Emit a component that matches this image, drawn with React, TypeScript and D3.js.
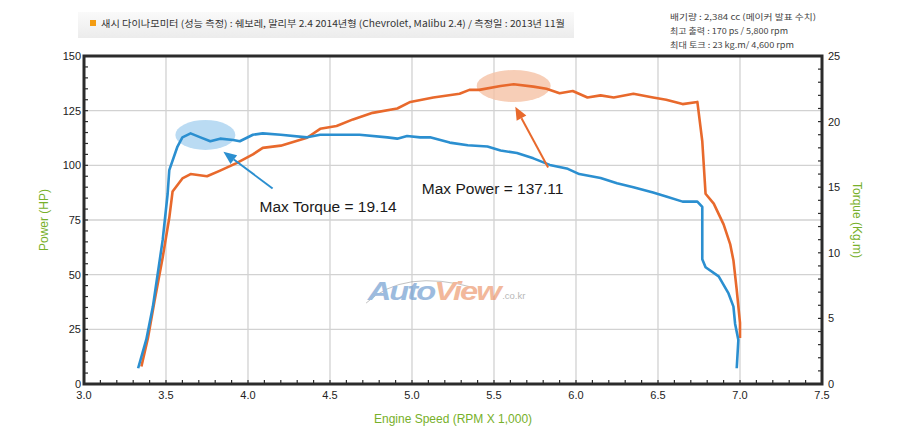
import * as d3 from "d3";
import * as React from "react";

// engine speed (x1000 rpm) / power (hp) for the orange curve
const powerRpm = [3.35, 3.39, 3.43, 3.48, 3.52, 3.54, 3.60, 3.65, 3.75, 3.83, 3.93, 4.03, 4.09, 4.20, 4.36, 4.44, 4.54, 4.64, 4.76, 4.91, 4.99, 5.13, 5.29, 5.35, 5.41, 5.54, 5.62, 5.74, 5.82, 5.90, 5.98, 6.07, 6.15, 6.23, 6.35, 6.47, 6.55, 6.65, 6.74, 6.77, 6.79, 6.84, 6.90, 6.94, 6.96, 6.98, 7.00, 7.00];
const powerHp = [8, 21, 38, 58, 76, 88, 94, 96, 95, 97.6, 101, 105, 108, 109, 112.6, 116.7, 118, 121, 124, 126, 129, 131, 132.7, 134.5, 134.5, 136.3, 137.1, 136, 135, 133, 134, 131, 132, 131, 132.7, 131, 130, 128, 129, 111, 87, 82.5, 73, 64, 56.5, 43, 28, 21];

// engine speed / torque (kg.m) for the blue curve
const torqueRpm = [3.33, 3.38, 3.42, 3.48, 3.51, 3.52, 3.57, 3.60, 3.65, 3.71, 3.77, 3.83, 3.91, 3.95, 4.03, 4.09, 4.20, 4.36, 4.44, 4.54, 4.68, 4.85, 4.91, 4.97, 5.05, 5.11, 5.23, 5.34, 5.46, 5.54, 5.64, 5.74, 5.84, 5.95, 6.02, 6.15, 6.25, 6.35, 6.47, 6.55, 6.65, 6.74, 6.77, 6.77, 6.77, 6.79, 6.87, 6.93, 6.96, 6.97, 6.99, 6.98];
const torqueKgm = [1.2, 3.4, 5.9, 11, 14.5, 16.3, 18.1, 18.8, 19.1, 18.8, 18.5, 18.7, 18.6, 18.5, 19.0, 19.1, 19.0, 18.8, 19.0, 19.0, 19.0, 18.8, 18.7, 18.9, 18.8, 18.8, 18.4, 18.2, 18.1, 17.8, 17.6, 17.2, 16.7, 16.4, 16.0, 15.7, 15.3, 15.0, 14.6, 14.3, 13.9, 13.9, 13.5, 11.2, 9.5, 8.9, 8.2, 6.9, 5.9, 4.6, 3.35, 1.2];

const xTicks = [3.0, 3.5, 4.0, 4.5, 5.0, 5.5, 6.0, 6.5, 7.0, 7.5];
const powerTicks = [0, 25, 50, 75, 100, 125, 150];
const torqueTicks = [0, 5, 10, 15, 20, 25];

const headerText = "새시 다이나모미터 (성능 측정)  :  쉐보레, 말리부 2.4 2014년형  (Chevrolet, Malibu 2.4) / 측정일 : 2013년 11월";
const specLines = [
    "배기량 :  2,384 cc   (메이커 발표 수치)",
    "최고 출력 : 170 ps / 5,800 rpm",
    "최대 토크 : 23 kg.m/ 4,600 rpm",
];
const specWidths = [146, 118, 124];

const ORANGE = "#e8692c";
const BLUE = "#2b8fd0";
const GREEN = "#77b02a";
const AXIS = "#2b2b2b";
const FONT = "'Liberation Sans', Arial, sans-serif";
const KFONT = "'Noto Sans CJK KR', 'Liberation Sans', sans-serif";

const margin = { left: 84, right: 78, top: 56, bottom: 52 };
const W = 900;
const H = 436;

function Arrow(props: { x1: number; y1: number; x2: number; y2: number; color: string }): JSX.Element {
    const { x1, y1, x2, y2, color } = props;
    const a = Math.atan2(y2 - y1, x2 - x1);
    const len = 13;
    const half = 5.5;
    const bx = x2 - len * Math.cos(a);
    const by = y2 - len * Math.sin(a);
    const px = -Math.sin(a) * half;
    const py = Math.cos(a) * half;
    return (
        <g>
            <line x1={x1} y1={y1} x2={bx} y2={by} stroke={color} strokeWidth={2} />
            <path d={`M${x2},${y2}L${bx + px},${by + py}L${bx - px},${by - py}Z`} fill={color} />
        </g>
    );
}

export default function App(): JSX.Element {
    const x = d3.scaleLinear().domain([3, 7.5]).range([margin.left, W - margin.right]);
    const yP = d3.scaleLinear().domain([0, 150]).range([H - margin.bottom, margin.top]);
    const yT = d3.scaleLinear().domain([0, 25]).range([H - margin.bottom, margin.top]);

    const [x0, x1] = x.range();
    const [y0, y1] = yP.range();

    const powerLine = d3.line<number>()
        .x((_, i) => x(powerRpm[i]))
        .y(d => yP(d));
    const torqueLine = d3.line<number>()
        .x((_, i) => x(torqueRpm[i]))
        .y(d => yT(d));

    const xMinor = d3.range(30, 76).map(v => v / 10);
    const pMinor = d3.range(0, 151, 5);
    const tMinor = d3.range(0, 26, 1);

    return (
        <svg width={W} height={H} style={{ position: "absolute", left: 0, top: 0, background: "#fff" }}>
            <defs>
                <linearGradient id="band" x1="0" x2="0" y1="0" y2="1">
                    <stop offset="0" stopColor="#fafafa" />
                    <stop offset="1" stopColor="#ececec" />
                </linearGradient>
            </defs>
            {/* header band */}
            <rect x={78} y={12} width={496} height={26} fill="url(#band)" />
            <rect x={90} y={20} width={6} height={6} fill="#f39c12" />
            <text x={101} y={27} fontFamily={KFONT} fontSize={9.4} fill="#333" textLength={464} lengthAdjust="spacingAndGlyphs">{headerText}</text>
            {specLines.map((s, i) => (
                <text key={i} x={670} y={20 + i * 14} fontFamily={KFONT} fontSize={8.2} fill="#444" textLength={specWidths[i]} lengthAdjust="spacingAndGlyphs">{s}</text>
            ))}

            {/* grid */}
            {xTicks.slice(1, -1).map(t => (
                <line key={t} x1={x(t)} x2={x(t)} y1={y1} y2={y0} stroke="#d2d2d2" strokeWidth={1.3} />
            ))}
            {powerTicks.slice(1, -1).map(t => (
                <line key={t} x1={x0} x2={x1} y1={yP(t)} y2={yP(t)} stroke="#d2d2d2" strokeWidth={1.3} />
            ))}

            {/* watermark */}
            <g opacity={0.6} fontFamily={FONT} fontStyle="italic" fontWeight="bold">
                <path d={`M${x(4.72)},${yP(37)} Q${x(4.95)},${yP(53)} ${x(5.38)},${yP(44)}`} fill="none" stroke="#9a9a9a" strokeWidth={1} />
                <text x={x(4.73)} y={yP(42) + 8} fontSize={25} letterSpacing={-1.5} textLength={132} lengthAdjust="spacingAndGlyphs">
                    <tspan fill="#5b8fc9">Auto</tspan><tspan fill="#ea8a5a">View</tspan>
                </text>
                <text x={x(5.55)} y={yP(42) + 7} fontSize={9.5} fontWeight="normal" fontStyle="normal" fill="#888">.co.kr</text>
            </g>

            {/* highlight ellipses */}
            <ellipse cx={x(3.74)} cy={yT(18.98)} rx={30} ry={15} fill="#a9d2f0" opacity={0.8} />
            <ellipse cx={x(5.62)} cy={yP(136.3)} rx={37} ry={16} fill="#f5c2a5" opacity={0.8} />

            {/* curves */}
            <path d={powerLine(powerHp) ?? ""} fill="none" stroke={ORANGE} strokeWidth={2.6} strokeLinejoin="round" />
            <path d={torqueLine(torqueKgm) ?? ""} fill="none" stroke={BLUE} strokeWidth={2.6} strokeLinejoin="round" />

            {/* annotations */}
            <Arrow x1={x(4.15)} y1={yT(14.9)} x2={x(3.85)} y2={yT(17.7)} color={BLUE} />
            <Arrow x1={x(5.83)} y1={yP(99)} x2={x(5.63)} y2={yP(126.8)} color={ORANGE} />
            <text x={x(4.07)} y={yT(13.1)} fontFamily={FONT} fontSize={15.5} fill="#1a1a1a">Max Torque = 19.14</text>
            <text x={x(5.06)} y={yP(87)} fontFamily={FONT} fontSize={15.5} fill="#1a1a1a">Max Power = 137.11</text>

            {/* minor ticks */}
            {xMinor.map(t => (
                <line key={t} x1={x(t)} x2={x(t)} y1={y0} y2={y0 - 4} stroke={AXIS} strokeWidth={1.2} />
            ))}
            {pMinor.map(t => (
                <line key={t} x1={x0} x2={x0 + 4} y1={yP(t)} y2={yP(t)} stroke={AXIS} strokeWidth={1.2} />
            ))}
            {tMinor.map(t => (
                <line key={t} x1={x1} x2={x1 - 4} y1={yT(t)} y2={yT(t)} stroke={AXIS} strokeWidth={1.2} />
            ))}

            {/* frame */}
            <rect x={x0} y={y1} width={x1 - x0} height={y0 - y1} fill="none" stroke={AXIS} strokeWidth={3} />

            {/* tick labels */}
            {xTicks.map(t => (
                <text key={t} x={x(t)} y={y0 + 15} textAnchor="middle" fontFamily={FONT} fontSize={11} fill="#222">{t.toFixed(1)}</text>
            ))}
            {powerTicks.map(t => (
                <text key={t} x={x0 - 3} y={yP(t) + 4} textAnchor="end" fontFamily={FONT} fontSize={11} fill="#222">{t}</text>
            ))}
            {torqueTicks.map(t => (
                <text key={t} x={x1 + 6} y={yT(t) + 4} fontFamily={FONT} fontSize={11} fill="#222">{t}</text>
            ))}

            {/* axis titles */}
            <text transform={`translate(48,${(y0 + y1) / 2}) rotate(-90)`} textAnchor="middle" fontFamily={FONT} fontSize={12} fill={GREEN}>Power (HP)</text>
            <text transform={`translate(853,${(y0 + y1) / 2}) rotate(90)`} textAnchor="middle" fontFamily={FONT} fontSize={12} fill={GREEN}>Torque (Kg.m)</text>
            <text x={(x0 + x1) / 2} y={423} textAnchor="middle" fontFamily={FONT} fontSize={12} fill={GREEN}>Engine Speed (RPM X 1,000)</text>
        </svg>
    );
}
